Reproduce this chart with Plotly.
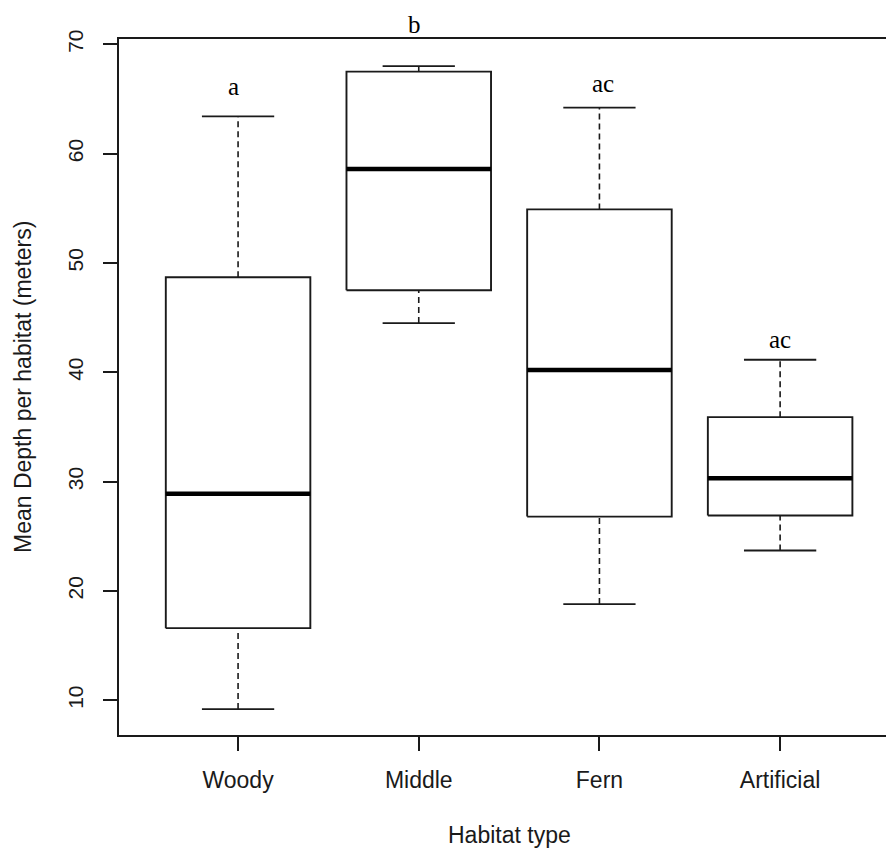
import plotly.graph_objects as go

# Mean depth per habitat: five-number summaries of each group
habitats = ["Woody", "Middle", "Fern", "Artificial"]
lower_whisker = [9.2, 44.5, 18.8, 23.7]
q1 = [16.6, 47.5, 26.8, 26.9]
median = [28.9, 58.6, 40.2, 30.3]
q3 = [48.7, 67.5, 54.9, 35.9]
upper_whisker = [63.4, 68.0, 64.2, 41.15]

# Significance groupings (letters) and where they sit
letters = ["a", "b", "ac", "ac"]
letter_x = [0.973, 1.974, 3.02, 4.0]
letter_y = [66.1, 71.8, 66.4, 43.0]

y_ticks = [10, 20, 30, 40, 50, 60, 70]

X_RANGE = [0.341, 4.586]
Y_RANGE = [6.826, 70.485]

BOX_HALF = 0.4      # boxwex 0.8
CAP_HALF = 0.2      # staple width
INK = "#1a1a1a"

pos = list(range(1, len(habitats) + 1))

fig = go.Figure()

# dashed whiskers
wx, wy = [], []
for p, lo, a, b, hi in zip(pos, lower_whisker, q1, q3, upper_whisker):
    wx += [p, p, None, p, p, None]
    wy += [b, hi, None, lo, a, None]
fig.add_trace(go.Scatter(x=wx, y=wy, mode="lines",
                         line=dict(color=INK, width=1.6, dash="6px,4px"),
                         hoverinfo="skip", showlegend=False))

# whisker caps
cx, cy = [], []
for p, lo, hi in zip(pos, lower_whisker, upper_whisker):
    cx += [p - CAP_HALF, p + CAP_HALF, None, p - CAP_HALF, p + CAP_HALF, None]
    cy += [hi, hi, None, lo, lo, None]
fig.add_trace(go.Scatter(x=cx, y=cy, mode="lines",
                         line=dict(color=INK, width=1.8),
                         hoverinfo="skip", showlegend=False))

# boxes (Q1 to Q3)
for p, a, b in zip(pos, q1, q3):
    fig.add_trace(go.Scatter(
        x=[p - BOX_HALF, p + BOX_HALF, p + BOX_HALF, p - BOX_HALF, p - BOX_HALF],
        y=[a, a, b, b, a],
        mode="lines", fill="toself", fillcolor="white",
        line=dict(color=INK, width=1.9),
        hoverinfo="skip", showlegend=False))

# medians
mx, my = [], []
for p, m in zip(pos, median):
    mx += [p - BOX_HALF, p + BOX_HALF, None]
    my += [m, m, None]
fig.add_trace(go.Scatter(x=mx, y=my, mode="lines",
                         line=dict(color="black", width=4.5),
                         hoverinfo="skip", showlegend=False))

# group letters (placed on the y scale, allowed to sit above the frame)
span = Y_RANGE[1] - Y_RANGE[0]
letter_notes = [
    dict(text=t, xref="x", yref="paper", x=lx, y=(ly - Y_RANGE[0]) / span,
         xanchor="center", yanchor="middle", showarrow=False,
         font=dict(family="Liberation Serif", size=25, color="black"))
    for t, lx, ly in zip(letters, letter_x, letter_y)
]

fig.update_layout(
    width=886, height=849,
    margin=dict(l=119, r=0, t=39, b=114),
    paper_bgcolor="white", plot_bgcolor="white",
    font=dict(family="Liberation Sans", color="#1a1a1a"),
    showlegend=False,
    xaxis=dict(
        range=X_RANGE,
        tickvals=pos, ticktext=habitats,
        ticks="outside", ticklen=14, tickwidth=1.6, tickcolor=INK,
        showline=True, linecolor=INK, linewidth=1.6, mirror=True,
        showgrid=False, zeroline=False,
        tickfont=dict(size=23),
        ticklabelstandoff=10,
    ),
    yaxis=dict(
        range=Y_RANGE,
        tickvals=y_ticks,
        ticks="outside", ticklen=14, tickwidth=1.6, tickcolor=INK,
        showline=True, linecolor=INK, linewidth=1.6,
        showgrid=False, zeroline=False,
        tickangle=-90,
        tickfont=dict(size=21),
        ticklabelstandoff=12,
    ),
    annotations=letter_notes + [
        dict(text="Habitat type", xref="x", yref="paper", x=2.5, y=0,
             xanchor="center", yanchor="middle", yshift=-100, showarrow=False,
             font=dict(size=23, family="Liberation Sans", color="#1a1a1a")),
        dict(text="Mean Depth per habitat (meters)", xref="paper", yref="paper",
             x=0, y=0.5, xanchor="center", yanchor="middle", xshift=-96,
             textangle=-90, showarrow=False,
             font=dict(size=23, family="Liberation Sans", color="#1a1a1a")),
    ],
)

fig.write_html("out.html")
